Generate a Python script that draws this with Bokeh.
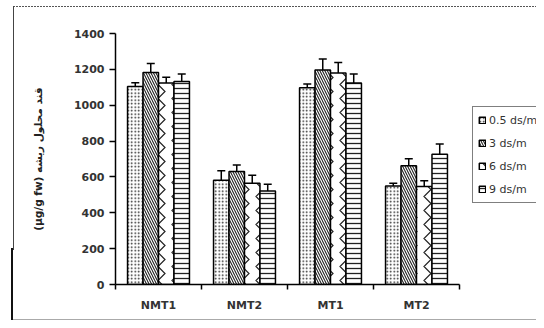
from bokeh.plotting import figure
from bokeh.models import (ColumnDataSource, FixedTicker, Whisker, TeeHead, Legend,
                          LegendItem, Range1d)
from bokeh.embed import file_html
from bokeh.resources import INLINE

categories = ["NMT1", "NMT2", "MT1", "MT2"]
series = ["0.5 ds/m", "3 ds/m", "6 ds/m", "9 ds/m"]
v05 = [1105, 582, 1098, 550]
v3 = [1183, 630, 1197, 662]
v6 = [1124, 565, 1180, 546]
v9 = [1132, 522, 1124, 727]
e05 = [20, 52, 20, 15]
e3 = [50, 36, 61, 40]
e6 = [32, 45, 58, 32]
e9 = [42, 37, 50, 56]
y_ticks = [0, 200, 400, 600, 800, 1000, 1200, 1400]

values = [v05, v3, v6, v9]
errors = [e05, e3, e6, e9]
offsets = [-0.27, -0.09, 0.09, 0.27]
hatches = [("dot", 3.5, 1.3), ("left_diagonal_line", 5, 1.1),
           ("vertical_wave", 14, 1.2), ("horizontal_line", 5, 1.3)]

W, H = 536, 320
LEFT, TOP, BOTTOM = 115, 33, 36
px_per_cat = 86.0
x_end = (W - LEFT) / px_per_cat

p = figure(width=W, height=H, output_backend="svg", toolbar_location=None,
           x_range=Range1d(0, x_end), y_range=Range1d(0, 1400),
           min_border_left=LEFT, min_border_right=0, min_border_top=TOP,
           min_border_bottom=BOTTOM)
p.outline_line_color = None
p.xgrid.visible = False
p.ygrid.visible = False
p.background_fill_color = "white"
p.border_fill_color = None
p.styles = {
    "background-color": "white",
    "background-image": ", ".join([
        "linear-gradient(#111, #111)",
        "linear-gradient(#444, #444)",
        "repeating-linear-gradient(to right, #555 0px, #555 2px, transparent 2px, transparent 3px)",
        "linear-gradient(#aaa, #aaa)",
    ]),
    "background-size": "2px 72px, 1px 244px, 100% 1px, 100% 1px",
    "background-position": "11px 248px, 13px 6px, 13px 6px, 13px 319px",
    "background-repeat": "no-repeat",
}

items = []
for k in range(4):
    xs = [i + 0.5 + offsets[k] for i in range(4)]
    src = ColumnDataSource(dict(x=xs, top=values[k],
                                up=[values[k][i] + errors[k][i] for i in range(4)]))
    pat, sc, wt = hatches[k]
    r = p.vbar(x="x", top="top", bottom=0, width=0.18, source=src,
               fill_color="white", line_color="black", line_width=1.5,
               hatch_pattern=pat, hatch_scale=sc, hatch_weight=wt, hatch_color="#222222")
    w = Whisker(base="x", lower="top", upper="up", source=src, dimension="height",
                line_color="black", line_width=1.5, lower_head=None,
                upper_head=TeeHead(size=8, line_color="black", line_width=1.5))
    p.add_layout(w)
    items.append(LegendItem(label=series[k], renderers=[r]))

# axes
yax = p.yaxis[0]
yax.ticker = FixedTicker(ticks=y_ticks, minor_ticks=[])
yax.axis_line_color = "black"
yax.axis_line_width = 1.5
yax.major_tick_line_width = 1.5
yax.major_tick_in = 0
yax.major_tick_out = 6
yax.minor_tick_line_color = None
yax.major_label_text_font = "DejaVu Sans"
yax.major_label_text_font_style = "bold"
yax.major_label_text_font_size = "11px"
yax.major_label_text_color = "#333333"
yax.major_label_standoff = 5
yax.axis_label = "(µg/g fw) قند محلول ریشه"
yax.axis_label_text_font = "DejaVu Sans"
yax.axis_label_text_font_style = "bold"
yax.axis_label_text_font_size = "10.5px"
yax.axis_label_text_color = "#222222"
yax.axis_label_standoff = 27

xax = p.xaxis[0]
xax.bounds = (0, 4)
xax.ticker = FixedTicker(ticks=[i + 0.5 for i in range(4)], minor_ticks=[0, 1, 2, 3, 4])
xax.major_label_overrides = {i + 0.5: categories[i] for i in range(4)}
xax.axis_line_color = "black"
xax.axis_line_width = 1.5
xax.major_tick_line_color = None
xax.major_tick_in = 0
xax.major_tick_out = 0
xax.minor_tick_line_color = "black"
xax.minor_tick_line_width = 1.5
xax.minor_tick_in = 0
xax.minor_tick_out = 5
xax.major_label_text_font = "DejaVu Sans"
xax.major_label_text_font_style = "bold"
xax.major_label_text_font_size = "11px"
xax.major_label_text_color = "#333333"
xax.major_label_standoff = 9

legend = Legend(items=items, location=(357, 81), orientation="vertical",
                label_text_font="DejaVu Sans", label_text_font_size="11px",
                label_text_color="#333333", label_height=16, glyph_height=8,
                glyph_width=8, spacing=7, padding=5, margin=0, label_standoff=3,
                border_line_color="black", border_line_width=1,
                background_fill_color="white", background_fill_alpha=1.0)
p.add_layout(legend, "center")

open("out.html", "w").write(file_html(p, INLINE))
